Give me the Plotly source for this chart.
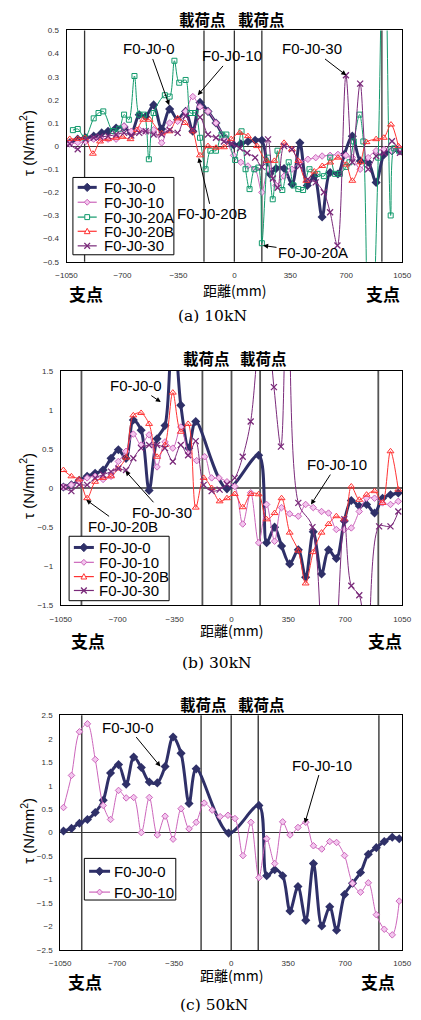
import plotly.graph_objects as go

# ---------------- DATA ----------------
# (a) 10kN
x10_0 = [-1030,-980,-930,-880,-830,-790,-740,-690,-645,-595,-555,-505,-455,-405,-355,-305,-260,-215,-165,-115,-55,-5,40,85,130,172,222,261,311,361,410,456,500,549,599,648,688,738,788,837,887,937,986,1036]
y10_0 = [0.014,0.03,0.036,0.043,0.057,0.064,0.078,0.083,0.057,0.135,0.128,0.178,0.074,0.16,0.114,0.15,0.064,0.189,0.15,0.10,0.03,0.005,0.01,0.02,0.025,0.025,-0.12,-0.097,-0.097,-0.165,0.014,-0.17,-0.13,-0.307,-0.114,-0.121,-0.036,0.043,-0.064,-0.07,-0.157,-0.036,-0.02,-0.02]
x10_10 = [-1030,-980,-930,-880,-830,-790,-740,-690,-645,-595,-555,-505,-455,-405,-355,-305,-260,-215,-165,-115,-55,-5,40,85,130,172,211,261,311,360,410,460,509,549,599,648,698,738,787,837,887,936,986,1036]
y10_10 = [0.01,0.015,0.02,0.03,0.03,0.03,0.03,0.086,0.064,0.071,0.064,0.071,0.014,0.10,0.107,0.15,0.214,0.17,0.15,0.10,0.03,-0.04,-0.07,-0.086,-0.1,-0.2,-0.1,-0.17,-0.13,-0.1,-0.07,-0.057,-0.05,-0.043,-0.04,-0.036,-0.04,-0.05,-0.1,-0.05,-0.02,-0.015,-0.02,-0.01]
x10_20a = [-1010,-980,-935,-880,-850,-820,-760,-720,-690,-660,-625,-595,-565,-535,-505,-435,-405,-375,-345,-305,-275,-245,-215,-180,-150,-115,-80,-50,5,45,70,95,125,150,172,210,240,270,300,340,370,400,430,470,520,560,600,630,660,700,720,747,783,807,845,900,937,978,1000,1030]
y10_20a = [0.069,0.074,0.036,0.12,0.143,0.15,0.065,0.075,0.136,0.114,0.303,0.136,0.136,-0.057,0.143,0.22,0.214,0.369,0.274,0.286,0.143,0.143,0.036,-0.1,-0.02,-0.02,0.05,0.05,-0.06,0.064,-0.1,-0.186,-0.1,-0.093,-0.42,-0.05,-0.23,-0.02,-0.19,-0.07,-0.17,-0.186,-0.19,-0.1,-0.12,-0.13,-0.05,-0.12,-0.12,-0.09,-0.07,0.02,0.136,0.02,-1.2,-0.05,1.2,-0.3,-0.01,-0.02]
x10_20b = [-1030,-980,-935,-885,-840,-790,-740,-700,-650,-610,-570,-530,-455,-405,-355,-310,-260,-215,-165,-115,-65,-20,33,85,142,201,250,311,360,400,450,500,550,600,648,700,738,790,827,887,935,980,1026]
y10_20b = [0.031,0.031,0.035,-0.033,0.02,0.03,0.036,0.04,0.03,0.07,0.114,0.114,0.055,0.064,0.12,0.10,0.064,-0.04,0.0,-0.007,-0.005,0.03,0.057,0.043,0.0,-0.064,-0.064,0.014,-0.014,-0.064,-0.15,-0.11,-0.086,-0.071,-0.05,-0.08,-0.15,-0.07,0.017,0.03,0.036,0.093,0.0]
x10_30 = [-1030,-980,-930,-880,-840,-790,-740,-690,-645,-595,-555,-505,-455,-405,-355,-305,-260,-215,-165,-115,-65,-15,35,80,130,172,211,241,271,311,360,410,460,509,560,599,645,698,738,787,837,887,936,986,1036]
y10_30 = [0.01,-0.014,0.029,0.036,0.04,0.043,0.05,0.057,0.046,0.057,0.064,0.05,0.05,0.07,0.057,0.13,0.07,0.125,0.05,0.036,0.02,0.01,-0.01,-0.03,-0.05,-0.09,0.029,-0.14,-0.18,0.0,-0.014,-0.086,-0.143,-0.157,-0.2,-0.286,-0.43,0.306,-0.07,0.27,-0.1,-0.043,-0.03,0.021,-0.029]

# (b) 30kN
x30_0 = [-1034,-985,-937,-888,-839,-790,-741,-696,-649,-604,-556,-507,-458,-409,-362,-312,-263,-220,-28,167,216,265,308,358,411,456,503,554,597,645,694,737,786,831,880,929,978,1026]
y30_0 = [0.013,0.04,0.1,0.15,0.19,0.23,0.38,0.49,0.38,0.87,0.74,-0.03,0.63,0.80,2.3,1.06,0.51,0.85,-0.01,0.42,-0.70,-0.50,-0.74,-0.97,-0.79,-1.14,-0.56,-1.10,-0.79,-0.90,-0.42,-0.16,-0.23,-0.21,-0.32,-0.13,-0.085,-0.063]
x30_10 = [-1034,-985,-937,-888,-839,-790,-741,-696,-649,-604,-556,-507,-458,-409,-361,-312,-263,-214,-165,-122,-77,-28,20,69,118,167,216,265,308,358,411,456,503,554,597,645,694,737,786,831,880,929,978,1026]
y30_10 = [0.013,0.04,0.085,0.13,0.15,0.11,0.15,0.34,0.47,0.69,0.55,0.68,0.27,0.59,0.51,0.78,0.44,0.35,0.40,0.13,0.13,0.08,0.02,-0.46,-0.06,-0.70,-0.21,-0.68,-0.25,-0.33,-0.36,-0.21,-0.25,-0.30,-0.32,-0.53,-0.53,-0.51,-0.30,-0.13,-0.13,-0.19,-0.21,-0.17]
x30_20b = [-1034,-985,-937,-888,-839,-790,-741,-696,-649,-604,-556,-507,-458,-409,-361,-312,-267,-220,-171,-122,-73,-28,20,69,118,167,216,265,308,358,411,456,503,554,597,645,694,737,786,831,880,929,978,1026]
y30_20b = [0.23,0.15,0.11,-0.13,0.08,0.13,0.15,0.25,0.39,0.93,0.96,0.82,0.40,0.55,1.22,0.72,0.82,-0.25,0.13,0.0,-0.17,-0.13,-0.076,-0.245,-0.076,-0.08,-0.40,-0.32,-0.13,-0.57,-0.80,-1.22,-0.82,-0.57,-0.46,-0.36,-0.40,0.02,-0.15,-0.085,-0.04,-0.19,0.47,-0.02]
x30_30 = [-1034,-985,-937,-888,-839,-790,-741,-696,-649,-604,-556,-507,-458,-409,-361,-312,-267,-220,-171,-122,-73,-28,20,69,118,200,261,304,355,411,498,585,694,737,786,835,908,978,1026]
y30_30 = [0.013,-0.04,0.04,0.04,0.13,0.17,0.21,0.25,0.23,0.38,0.51,0.55,0.55,0.51,0.34,0.55,0.42,0.60,0.04,-0.04,-0.02,0.05,0.13,0.40,0.85,2.5,1.29,0.53,5.5,-0.19,-0.5,-4.5,-0.40,-1.25,-1.37,-2.2,-0.49,-0.49,-0.30]

# (c) 50kN
x50_0 = [-1030,-981,-932,-883,-835,-786,-741,-692,-645,-599,-552,-503,-454,-406,-357,-308,-259,-215,-16,170,218,267,316,361,410,458,505,556,605,647,696,745,794,842,891,940,989,1032]
y50_0 = [0.035,0.09,0.20,0.28,0.43,0.69,1.27,1.45,1.03,1.61,1.39,1.08,1.06,1.41,2.04,1.69,0.62,1.36,-0.01,0.58,-0.92,-0.79,-0.92,-1.67,-1.15,-1.87,-0.66,-1.99,-1.58,-2.08,-1.32,-1.08,-0.85,-0.46,-0.32,-0.19,-0.10,-0.13]
x50_10 = [-1030,-981,-932,-883,-835,-786,-741,-692,-645,-599,-552,-503,-454,-406,-357,-308,-259,-215,-166,-117,-68,-20,23,72,121,170,218,267,316,361,410,458,505,556,605,647,696,745,794,842,891,940,989,1032]
y50_10 = [0.535,1.22,2.15,2.32,1.56,0.58,0.28,0.90,0.74,0.75,0.0,0.75,-0.05,0.35,-0.14,0.51,0.08,0.22,0.63,0.48,0.34,0.37,0.30,-0.49,0.22,-0.96,-0.13,-0.66,0.23,-0.05,0.11,0.22,-0.28,-0.35,-0.19,-0.21,-0.49,-1.08,-1.27,-1.07,-1.75,-2.06,-2.18,-1.46]

x_ticks = [-1050, -700, -350, 0, 350, 700, 1050]
ref_lines_a = [-937, -190, 0, 172, 923]
ref_lines_b = [-923, -179, 0, 176, 903]
ref_lines_c = [-918, -185, 0, 166, 907]
legend_a = ['F0-J0-0', 'F0-J0-10', 'F0-J0-20A', 'F0-J0-20B', 'F0-J0-30']
legend_b = ['F0-J0-0', 'F0-J0-10', 'F0-J0-20B', 'F0-J0-30']
legend_c = ['F0-J0-0', 'F0-J0-10']

# ---------------- STYLE ----------------
W, H = 421, 1020
NAVY = '#2f3068'
PINK = '#cc66bb'
PINKFILL = '#f3c6ee'
GREEN = '#129a6c'
RED = '#ff3333'
PURPLE = '#7a2a7a'
COL = {'F0-J0-0': NAVY, 'F0-J0-10': PINK, 'F0-J0-20A': GREEN, 'F0-J0-20B': RED, 'F0-J0-30': PURPLE}
STY = {
    'F0-J0-0': dict(line=dict(color=NAVY, width=3), marker=dict(symbol='diamond', size=7, color=NAVY)),
    'F0-J0-10': dict(line=dict(color=PINK, width=1), marker=dict(symbol='diamond', size=5, color=PINKFILL, line=dict(color=PINK, width=1))),
    'F0-J0-20A': dict(line=dict(color=GREEN, width=1), marker=dict(symbol='square-open', size=5, color=GREEN, line=dict(color=GREEN, width=1))),
    'F0-J0-20B': dict(line=dict(color=RED, width=1), marker=dict(symbol='triangle-up-open', size=6, color=RED, line=dict(color=RED, width=1))),
    'F0-J0-30': dict(line=dict(color=PURPLE, width=1), marker=dict(symbol='x-thin-open', size=6, color=PURPLE, line=dict(color=PURPLE, width=1.3))),
}

fig = go.Figure()

def add(x, y, name, k):
    st = STY[name]
    line = dict(st['line'], shape='spline', smoothing=0.9)
    fig.add_trace(go.Scatter(
        x=x, y=y, name=name, mode='lines+markers', line=line, marker=st['marker'],
        xaxis='x' if k == 1 else f'x{k}', yaxis='y' if k == 1 else f'y{k}',
        showlegend=False, cliponaxis=True))

add(x10_0, y10_0, 'F0-J0-0', 1)
add(x10_10, y10_10, 'F0-J0-10', 1)
add(x10_20a, y10_20a, 'F0-J0-20A', 1)
add(x10_20b, y10_20b, 'F0-J0-20B', 1)
add(x10_30, y10_30, 'F0-J0-30', 1)

add(x30_0, y30_0, 'F0-J0-0', 2)
add(x30_10, y30_10, 'F0-J0-10', 2)
add(x30_20b, y30_20b, 'F0-J0-20B', 2)
add(x30_30, y30_30, 'F0-J0-30', 2)

add(x50_0, y50_0, 'F0-J0-0', 3)
add(x50_10, y50_10, 'F0-J0-10', 3)

def px(v):
    return v / W

def py(v):
    return 1 - v / H

TICKFONT = dict(family='Liberation Sans', size=8, color='#333')

def xaxis(dom, anchor):
    return dict(domain=dom, anchor=anchor, range=[-1050, 1050], tickvals=x_ticks,
                showgrid=False, zeroline=False, showline=True, mirror=True,
                linecolor='black', linewidth=1, ticks='outside', ticklen=6,
                tickcolor='rgba(0,0,0,0)', tickfont=TICKFONT, fixedrange=True)

def yaxis(dom, anchor, rng, dtick, zc='#333', zw=1.3):
    return dict(domain=dom, anchor=anchor, range=rng, dtick=dtick, tick0=0,
                showgrid=False, zeroline=True, zerolinecolor=zc, zerolinewidth=zw,
                showline=True, mirror=True, linecolor='black', linewidth=1,
                ticks='outside', ticklen=5, tickcolor='rgba(0,0,0,0)',
                tickfont=TICKFONT, fixedrange=True)

# pixel boxes of plot areas
A = (58.3, 410.7, 26.7, 260.0)
B = (52.3, 410.7, 370.0, 606.7)
C = (51.7, 410.7, 717.7, 954.3)

fig.update_layout(
    width=W, height=H, autosize=False,
    margin=dict(l=0, r=0, t=0, b=0),
    paper_bgcolor='white', plot_bgcolor='white',
    xaxis=xaxis([px(A[0]), px(A[1])], 'y'),
    yaxis=yaxis([py(A[3]), py(A[2])], 'x', [-0.5, 0.5], 0.1),
    xaxis2=xaxis([px(B[0]), px(B[1])], 'y2'),
    yaxis2=yaxis([py(B[3]), py(B[2])], 'x2', [-1.5, 1.5], 0.5, '#666', 2),
    xaxis3=xaxis([px(C[0]), px(C[1])], 'y3'),
    yaxis3=yaxis([py(C[3]), py(C[2])], 'x3', [-2.5, 2.5], 0.5),
    showlegend=False,
)

# vertical reference lines
shapes = []
for k, lines, col, wd in ((1, ref_lines_a, '#333', 1.3), (2, ref_lines_b, '#555', 1.8), (3, ref_lines_c, '#444', 1.5)):
    xr = 'x' if k == 1 else f'x{k}'
    yr = ('y' if k == 1 else f'y{k}') + ' domain'
    for v in lines:
        shapes.append(dict(type='line', xref=xr, yref=yr, x0=v, x1=v, y0=0, y1=1,
                           line=dict(color=col, width=wd), layer='below'))

ann = []
CJK = 'Noto Sans CJK JP'

def ptext(text, x, y, size, family=CJK, color='black', angle=0, xanchor='center'):
    ann.append(dict(text=text, x=px(x), y=py(y), xref='paper', yref='paper',
                    showarrow=False, xanchor=xanchor, yanchor='middle',
                    font=dict(family=family, size=size, color=color), textangle=angle))

def pshape(kind, **kw):
    d = dict(type=kind, xref='paper', yref='paper', layer='above')
    d.update(kw)
    shapes.append(d)

def ppath(pts):
    return 'M ' + ' L '.join(f'{px(a):.5f},{py(b):.5f}' for a, b in pts) + ' Z'

def legend_marker(name, cx, cy):
    c = COL[name]
    if name == 'F0-J0-0':
        r = 4.2
        pshape('path', path=ppath([(cx, cy - r), (cx + r, cy), (cx, cy + r), (cx - r, cy)]),
               fillcolor=c, line=dict(color=c, width=1))
    elif name == 'F0-J0-10':
        r = 3
        pshape('path', path=ppath([(cx, cy - r), (cx + r, cy), (cx, cy + r), (cx - r, cy)]),
               fillcolor=PINKFILL, line=dict(color=c, width=1))
    elif name == 'F0-J0-20A':
        r = 2.5
        pshape('rect', x0=px(cx - r), x1=px(cx + r), y0=py(cy + r), y1=py(cy - r),
               fillcolor='white', line=dict(color=c, width=1))
    elif name == 'F0-J0-20B':
        r = 3
        pshape('path', path=ppath([(cx, cy - r), (cx + r, cy + r * 0.8), (cx - r, cy + r * 0.8)]),
               fillcolor='white', line=dict(color=c, width=1))
    else:
        r = 3
        pshape('line', x0=px(cx - r), x1=px(cx + r), y0=py(cy - r), y1=py(cy + r), line=dict(color=c, width=1.3))
        pshape('line', x0=px(cx - r), x1=px(cx + r), y0=py(cy + r), y1=py(cy - r), line=dict(color=c, width=1.3))

def legend_box(box, names, ys, lx0, lx1, tx):
    x0, y0, x1, y1 = box
    pshape('rect', x0=px(x0), x1=px(x1), y0=py(y1), y1=py(y0), fillcolor='white',
           line=dict(color='black', width=1))
    for name, yc in zip(names, ys):
        wd = 3 if name == 'F0-J0-0' else 1.2
        pshape('line', x0=px(lx0), x1=px(lx1), y0=py(yc), y1=py(yc), line=dict(color=COL[name], width=wd))
        legend_marker(name, (lx0 + lx1) / 2, yc)
        ptext(name, tx, yc, 15, family='Liberation Sans', xanchor='left')

legend_box((65, 175, 171, 253), legend_a, [185, 200, 215, 229.3, 244], 70, 90, 95.5)
legend_box((61, 537, 166, 602), legend_b, [548.3, 563.3, 577.7, 591.7], 66, 87, 90.5)
legend_box((77, 862, 173, 904), legend_c, [875, 896], 82, 104, 106)

for (l1, l2, ly), (s1, s2, sy), (tx, ty), (cx, cy, cap), yc in (
        ((200.7, 262.5, 15), (79, 391, 291.7), (235, 288.5), (212, 315, '(a) 10kN'), 140),
        ((205, 265, 356.7), (80.8, 392.5, 641.7), (231.7, 632), (216, 665, '(b) 30kN'), 486),
        ((201.7, 262.8, 706), (77.5, 385.8, 986.7), (231.7, 979.5), (213.3, 1010, '(c) 50kN'), 834)):
    ptext('<b>載荷点</b>', l1, ly, 15.5)
    ptext('<b>載荷点</b>', l2, ly, 15.5)
    ptext('<b>支点</b>', s1, sy, 17)
    ptext('<b>支点</b>', s2, sy, 17)
    ptext('距離(mm)', tx, ty, 14)
    ptext(cap, cx, cy, 15.5, family='DejaVu Serif')
    ptext('τ (N/mm<sup>2</sup>)', 17, yc, 15, family='Liberation Sans', angle=-90)

def arrow(text, k, hx, hy, tx, ty):
    xr = 'x' if k == 1 else f'x{k}'
    yr = 'y' if k == 1 else f'y{k}'
    ann.append(dict(text=text, x=hx, y=hy, ax=tx, ay=ty, xref=xr, yref=yr, axref=xr, ayref=yr,
                    showarrow=True, arrowhead=2, arrowsize=1, arrowwidth=1, arrowcolor='black',
                    font=dict(family='Liberation Sans', size=15, color='black')))

arrow('F0-J0-0', 1, -408, 0.177, -533, 0.42)
arrow('F0-J0-10', 1, -229, 0.22, -17, 0.39)
arrow('F0-J0-30', 1, 700, 0.306, 486, 0.42)
arrow('F0-J0-20B', 1, -223, -0.05, -140, -0.293)
arrow('F0-J0-20A', 1, 180, -0.43, 492, -0.46)

arrow('F0-J0-0', 2, -435, 1.10, -585, 1.31)
arrow('F0-J0-30', 2, -653, 0.22, -425, -0.31)
arrow('F0-J0-20B', 2, -894, -0.15, -668, -0.49)
arrow('F0-J0-10', 2, 489, -0.21, 648, 0.30)

arrow('F0-J0-0', 3, -435, 1.41, -634, 2.25)
arrow('F0-J0-10', 3, 452, 0.2, 556, 1.44)

fig.update_layout(shapes=shapes, annotations=ann)
fig.write_html('out.html')
